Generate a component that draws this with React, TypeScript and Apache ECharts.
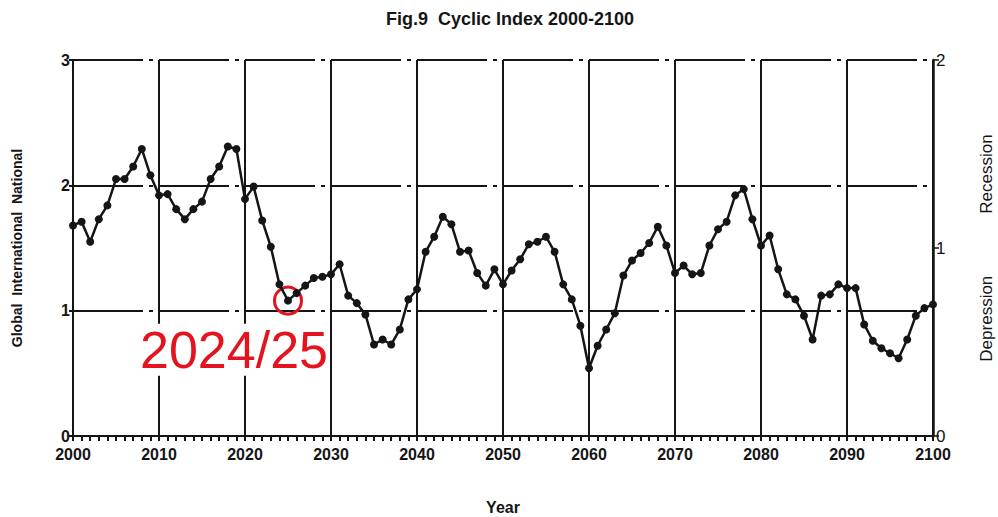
import React, { useEffect, useRef } from "react";
import * as echarts from "echarts";

const years = [
  2000, 2001, 2002, 2003, 2004, 2005, 2006, 2007, 2008, 2009,
  2010, 2011, 2012, 2013, 2014, 2015, 2016, 2017, 2018, 2019,
  2020, 2021, 2022, 2023, 2024, 2025, 2026, 2027, 2028, 2029,
  2030, 2031, 2032, 2033, 2034, 2035, 2036, 2037, 2038, 2039,
  2040, 2041, 2042, 2043, 2044, 2045, 2046, 2047, 2048, 2049,
  2050, 2051, 2052, 2053, 2054, 2055, 2056, 2057, 2058, 2059,
  2060, 2061, 2062, 2063, 2064, 2065, 2066, 2067, 2068, 2069,
  2070, 2071, 2072, 2073, 2074, 2075, 2076, 2077, 2078, 2079,
  2080, 2081, 2082, 2083, 2084, 2085, 2086, 2087, 2088, 2089,
  2090, 2091, 2092, 2093, 2094, 2095, 2096, 2097, 2098, 2099,
  2100,
];

const cyclicIndex = [
  1.68, 1.71, 1.55, 1.73, 1.84, 2.05, 2.05, 2.15, 2.29, 2.08,
  1.92, 1.93, 1.81, 1.73, 1.81, 1.87, 2.05, 2.15, 2.31, 2.29,
  1.89, 1.99, 1.72, 1.51, 1.21, 1.08, 1.14, 1.2, 1.26, 1.27,
  1.29, 1.37, 1.12, 1.06, 0.97, 0.73, 0.77, 0.73, 0.85, 1.09,
  1.17, 1.47, 1.59, 1.75, 1.69, 1.47, 1.48, 1.3, 1.2, 1.33,
  1.21, 1.32, 1.41, 1.53, 1.55, 1.59, 1.47, 1.21, 1.09, 0.88,
  0.54, 0.72, 0.85, 0.98, 1.28, 1.4, 1.46, 1.54, 1.67, 1.52,
  1.3, 1.36, 1.29, 1.3, 1.52, 1.65, 1.71, 1.92, 1.97, 1.73,
  1.52, 1.6, 1.33, 1.13, 1.09, 0.96, 0.77, 1.12, 1.13, 1.21,
  1.18, 1.18, 0.89, 0.76, 0.7, 0.66, 0.62, 0.77, 0.96, 1.02,
  1.05,
];

const TITLE = "Fig.9  Cyclic Index 2000-2100";
const X_NAME = "Year";
const LEFT_NAME = "Global  International  National";
const RIGHT_LOW = "Depression";
const RIGHT_HIGH = "Recession";
const ANNOTATION_YEAR = 2025;
const ANNOTATION_TEXT = "2024/25";

const FONT = "Liberation Sans, Arial, sans-serif";
const INK = "#151515";
const RED = "#e3141f";

export default function App() {
  const ref = useRef<HTMLDivElement>(null);

  useEffect(() => {
    if (!ref.current) return;
    const chart = echarts.init(ref.current, null, { renderer: "svg" });
    const data = years.map((y, i) => [y, cyclicIndex[i]]);
    const annIdx = years.indexOf(ANNOTATION_YEAR);

    chart.setOption({
      animation: false,
      backgroundColor: "#ffffff",
      textStyle: { fontFamily: FONT },
      title: {
        text: TITLE,
        left: 505,
        top: 5,
        textAlign: "center",
        textStyle: { fontFamily: FONT, fontWeight: "bold", fontSize: 18, color: INK },
      },
      grid: {
        left: 73,
        right: 65,
        top: 60,
        bottom: 81,
        containLabel: false,
        outerBoundsMode: "none",
      },
      xAxis: {
        type: "value",
        min: 2000,
        max: 2100,
        interval: 10,
        name: X_NAME,
        nameLocation: "middle",
        nameGap: 63,
        nameTextStyle: { fontFamily: FONT, fontWeight: "bold", fontSize: 16, color: INK },
        axisLine: { show: true, lineStyle: { color: INK, width: 2 } },
        axisTick: { show: true, length: 5, inside: false, lineStyle: { color: INK, width: 2 } },
        minorTick: { show: true, splitNumber: 10, length: 5, lineStyle: { color: INK, width: 2 } },
        axisLabel: {
          fontFamily: FONT,
          fontWeight: "bold",
          fontSize: 16,
          color: INK,
          margin: 10,
          formatter: (v: number) => String(v),
        },
        splitLine: { show: true, lineStyle: { color: INK, width: 2 } },
      },
      yAxis: [
        {
          type: "value",
          min: 0,
          max: 3,
          interval: 1,
          position: "left",
          name: LEFT_NAME,
          nameLocation: "middle",
          nameRotate: 90,
          nameGap: 49,
          nameTextStyle: { fontFamily: FONT, fontWeight: "bold", fontSize: 14, color: INK },
          axisLine: { show: true, lineStyle: { color: INK, width: 2 } },
          axisTick: { show: true, length: 4, lineStyle: { color: INK, width: 2 } },
          axisLabel: { fontFamily: FONT, fontWeight: "bold", fontSize: 16, color: INK, margin: 3 },
          splitLine: {
            show: true,
            lineStyle: { color: INK, width: 1.8, type: [70, 6, 4, 6] },
          },
        },
        {
          type: "value",
          min: 0,
          max: 2,
          interval: 1,
          position: "right",
          name: `{lo|${RIGHT_LOW}}{gap|}{hi|${RIGHT_HIGH}}`,
          nameLocation: "middle",
          nameRotate: 90,
          nameGap: 45,
          nameTextStyle: {
            fontFamily: FONT,
            fontSize: 17,
            color: INK,
            rich: {
              lo: { fontFamily: FONT, fontSize: 17, color: INK },
              hi: { fontFamily: FONT, fontSize: 17, color: INK },
              gap: { width: 62 },
            },
          },
          axisLine: { show: true, lineStyle: { color: INK, width: 2.5 } },
          axisTick: { show: true, length: 6, lineStyle: { color: INK, width: 1.5 } },
          axisLabel: { fontFamily: FONT, fontSize: 17, color: INK, margin: 3 },
          splitLine: { show: false },
        },
      ],
      series: [
        {
          type: "line",
          data,
          yAxisIndex: 0,
          symbol: "circle",
          symbolSize: 8,
          showSymbol: true,
          lineStyle: { color: INK, width: 2.5 },
          itemStyle: { color: INK },
          z: 5,
          markPoint: {
            silent: true,
            data: [
              {
                coord: data[annIdx],
                symbol: "circle",
                symbolSize: 27,
                itemStyle: { color: "rgba(255,255,255,0)", borderColor: RED, borderWidth: 3 },
                label: {
                  show: true,
                  position: "inside",
                  offset: [-54, 49],
                  formatter: ANNOTATION_TEXT,
                  fontFamily: FONT,
                  fontSize: 52,
                  color: RED,
                  backgroundColor: "#ffffff",
                  padding: [0, 2],
                },
              },
            ],
          },
        },
      ],
    });

    return () => chart.dispose();
  }, []);

  return (
    <div
      ref={ref}
      style={{ position: "fixed", left: 0, top: 0, width: 998, height: 517, background: "#fff" }}
    />
  );
}
